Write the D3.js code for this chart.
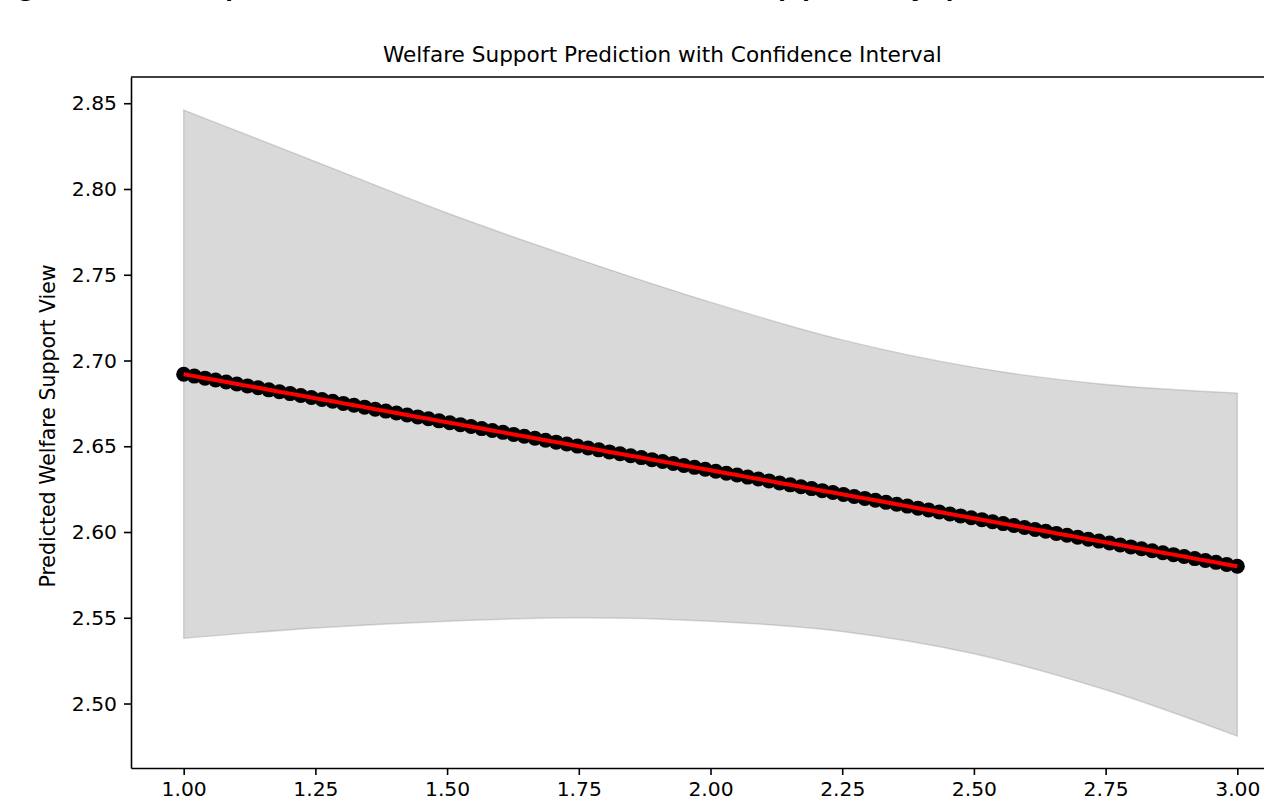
<!DOCTYPE html>
<html>
<head>
<meta charset="utf-8">
<script src="https://d3js.org/d3.v7.min.js"></script>
<style>
    body { margin: 0; background: #fff; }
    svg { display: block; font-family: "DejaVu Sans", sans-serif; }
</style>
</head>
<body>
<div class="vis"></div>
<script>
    // predicted values (100 points)
    var predX = [1.0000, 1.0202, 1.0404, 1.0606, 1.0808, 1.1010, 1.1212, 1.1414, 1.1616, 1.1818,
        1.2020, 1.2222, 1.2424, 1.2626, 1.2828, 1.3030, 1.3232, 1.3434, 1.3636, 1.3838,
        1.4040, 1.4242, 1.4444, 1.4646, 1.4848, 1.5051, 1.5253, 1.5455, 1.5657, 1.5859,
        1.6061, 1.6263, 1.6465, 1.6667, 1.6869, 1.7071, 1.7273, 1.7475, 1.7677, 1.7879,
        1.8081, 1.8283, 1.8485, 1.8687, 1.8889, 1.9091, 1.9293, 1.9495, 1.9697, 1.9899,
        2.0101, 2.0303, 2.0505, 2.0707, 2.0909, 2.1111, 2.1313, 2.1515, 2.1717, 2.1919,
        2.2121, 2.2323, 2.2525, 2.2727, 2.2929, 2.3131, 2.3333, 2.3535, 2.3737, 2.3939,
        2.4141, 2.4343, 2.4545, 2.4747, 2.4949, 2.5152, 2.5354, 2.5556, 2.5758, 2.5960,
        2.6162, 2.6364, 2.6566, 2.6768, 2.6970, 2.7172, 2.7374, 2.7576, 2.7778, 2.7980,
        2.8182, 2.8384, 2.8586, 2.8788, 2.8990, 2.9192, 2.9394, 2.9596, 2.9798, 3.0000];
    var predY = [2.6920, 2.6909, 2.6897, 2.6886, 2.6875, 2.6863, 2.6852, 2.6841, 2.6829, 2.6818,
        2.6807, 2.6796, 2.6784, 2.6773, 2.6762, 2.6750, 2.6739, 2.6728, 2.6716, 2.6705,
        2.6694, 2.6682, 2.6671, 2.6660, 2.6648, 2.6637, 2.6626, 2.6615, 2.6603, 2.6592,
        2.6581, 2.6569, 2.6558, 2.6547, 2.6535, 2.6524, 2.6513, 2.6501, 2.6490, 2.6479,
        2.6467, 2.6456, 2.6445, 2.6434, 2.6422, 2.6411, 2.6400, 2.6388, 2.6377, 2.6366,
        2.6354, 2.6343, 2.6332, 2.6320, 2.6309, 2.6298, 2.6286, 2.6275, 2.6264, 2.6253,
        2.6241, 2.6230, 2.6219, 2.6207, 2.6196, 2.6185, 2.6173, 2.6162, 2.6151, 2.6139,
        2.6128, 2.6117, 2.6105, 2.6094, 2.6083, 2.6072, 2.6060, 2.6049, 2.6038, 2.6026,
        2.6015, 2.6004, 2.5992, 2.5981, 2.5970, 2.5958, 2.5947, 2.5936, 2.5924, 2.5913,
        2.5902, 2.5891, 2.5879, 2.5868, 2.5857, 2.5845, 2.5834, 2.5823, 2.5811, 2.5800];

    // confidence band, read at every 0.25
    var ciX = [1.00, 1.25, 1.50, 1.75, 2.00, 2.25, 2.50, 2.75, 3.00];
    var ciUpper = [2.846, 2.816, 2.786, 2.759, 2.734, 2.712, 2.696, 2.686, 2.681];
    var ciLower = [2.538, 2.544, 2.548, 2.550, 2.548, 2.542, 2.529, 2.508, 2.481];

    var xTicks = [1.00, 1.25, 1.50, 1.75, 2.00, 2.25, 2.50, 2.75, 3.00];
    var yTicks = [2.50, 2.55, 2.60, 2.65, 2.70, 2.75, 2.80, 2.85];

    var title = "Welfare Support Prediction with Confidence Interval";
    var yLabel = "Predicted Welfare Support View";
    var headerText = "g of all the partisan effect on Welfare Support by political";

    var width = 1264, height = 809;
    var margin = { top: 77, right: -26, bottom: 41, left: 131 };

    var x = d3.scaleLinear()
        .domain([0.9, 3.1])
        .range([margin.left, width - margin.right]);
    var y = d3.scaleLinear()
        .domain([2.4624, 2.8653])
        .range([height - margin.bottom, margin.top]);

    var svg = d3.select('.vis')
        .append("svg")
        .attr("width", width)
        .attr("height", height)
        .attr("viewBox", [0, 0, width, height]);

    // cut-off heading above the figure, only its descenders show
    svg.append("text")
        .attr("x", 14)
        .attr("y", -8)
        .attr("font-size", 43)
        .attr("font-family", "Liberation Sans, sans-serif")
        .attr("fill", "#000")
        .text(headerText);

    var band = ciX.map((d, i) => ({ x: d, lo: ciLower[i], hi: ciUpper[i] }));
    var area = d3.area()
        .x(d => x(d.x))
        .y0(d => y(d.lo))
        .y1(d => y(d.hi))
        .curve(d3.curveMonotoneX);

    svg.append("path")
        .datum(band)
        .attr("d", area)
        .attr("fill", "#808080")
        .attr("fill-opacity", 0.3)
        .attr("stroke", "#808080")
        .attr("stroke-opacity", 0.3)
        .attr("stroke-width", 1.4);

    var pts = predX.map((d, i) => ({ x: d, y: predY[i] }));

    svg.append("g")
        .selectAll("circle")
        .data(pts)
        .join("circle")
        .attr("cx", d => x(d.x))
        .attr("cy", d => y(d.y))
        .attr("r", 7.5)
        .attr("fill", "#000");

    var line = d3.line()
        .x(d => x(d.x))
        .y(d => y(d.y));

    svg.append("path")
        .datum(pts)
        .attr("d", line)
        .attr("fill", "none")
        .attr("stroke", "#ff0000")
        .attr("stroke-width", 4);

    xAxis = (g) =>
        g
            .attr("transform", `translate(0,${height - margin.bottom})`)
            .call(d3.axisBottom(x).tickValues(xTicks).tickFormat(d3.format(".2f"))
                .tickSizeInner(7).tickSizeOuter(0).tickPadding(7))
            .call((g) => g.select(".domain").attr("stroke-width", 1.6))
            .call((g) => g.selectAll(".tick line").attr("stroke-width", 1.6))
            .call((g) => g.selectAll("text")
                .attr("font-size", 20.3)
                .attr("font-family", "DejaVu Sans")
                .attr("fill", "#000"));

    yAxis = (g) =>
        g
            .attr("transform", `translate(${margin.left},0)`)
            .call(d3.axisLeft(y).tickValues(yTicks).tickFormat(d3.format(".2f"))
                .tickSizeInner(7).tickSizeOuter(0).tickPadding(7))
            .call((g) => g.select(".domain").attr("stroke-width", 1.6))
            .call((g) => g.selectAll(".tick line").attr("stroke-width", 1.6))
            .call((g) => g.selectAll("text")
                .attr("font-size", 20.3)
                .attr("font-family", "DejaVu Sans")
                .attr("fill", "#000"));

    svg.append("g").call(xAxis);
    svg.append("g").call(yAxis);

    // top and right spines
    svg.append("line")
        .attr("x1", x.range()[0]).attr("x2", x.range()[1])
        .attr("y1", y.range()[1]).attr("y2", y.range()[1])
        .attr("stroke", "#000").attr("stroke-width", 1.6);
    svg.append("line")
        .attr("x1", x.range()[1]).attr("x2", x.range()[1])
        .attr("y1", y.range()[0]).attr("y2", y.range()[1])
        .attr("stroke", "#000").attr("stroke-width", 1.6);

    svg.append("text")
        .attr("x", 383)
        .attr("y", margin.top - 15)
        .attr("font-size", 21.6)
        .attr("fill", "#000")
        .text(title);

    svg.append("text")
        .attr("transform", `translate(55,426) rotate(-90)`)
        .attr("text-anchor", "middle")
        .attr("font-size", 20.5)
        .attr("fill", "#000")
        .text(yLabel);
</script>
</body>
</html>
